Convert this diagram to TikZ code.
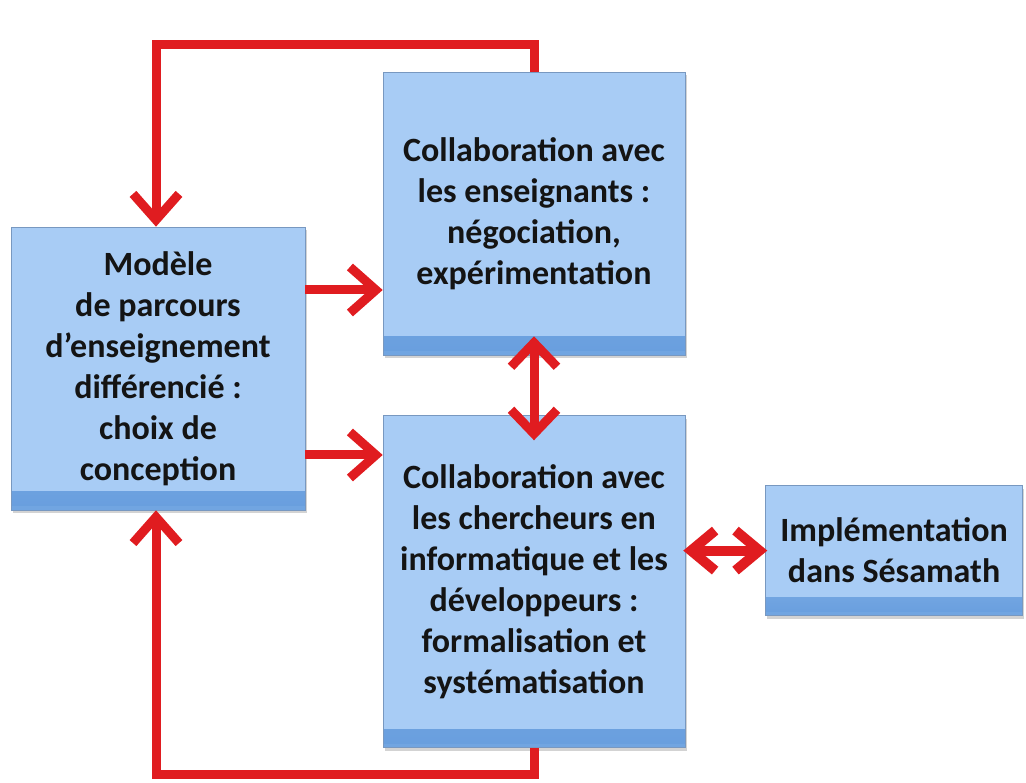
\documentclass[tikz,border=0pt]{standalone}
\usepackage{fontspec}
\setmainfont{Carlito}
\usepackage{tikz}
\usetikzlibrary{arrows.meta, positioning, shadows}
\definecolor{bleuclair}{RGB}{168,204,245}
\definecolor{bleufonce}{RGB}{104,158,222}
\definecolor{bordbleu}{RGB}{120,152,192}
\definecolor{rougefl}{RGB}{224,28,32}
\tikzset{
  bloc/.style={rectangle, draw=bordbleu, line width=0.6pt, fill=bleuclair,
    align=center, font=\fontsize{34}{41}\selectfont\bfseries, text=black!92,
    inner sep=0pt,
    drop shadow={shadow xshift=1.5pt, shadow yshift=-3pt, opacity=0.35},
    path picture={\shade[top color=bleuclair, bottom color=bleufonce]
      ([yshift=18pt]path picture bounding box.south west)
      rectangle ([yshift=4pt]path picture bounding box.south east);
      \fill[bleufonce!85!bleuclair] (path picture bounding box.south west)
      rectangle ([yshift=4pt]path picture bounding box.south east);}},
  fleche/.style={-{Straight Barb[length=26pt, width=46pt]}, line width=9pt,
    color=rougefl},
  fleched/.style={{Straight Barb[length=24pt, width=46pt]}-{Straight Barb[length=24pt, width=46pt]},
    line width=9pt, color=rougefl}
}
\begin{document}
\begin{tikzpicture}[x=1pt, y=1pt]
  \useasboundingbox (0,0) rectangle (1026,783);
  \node[bloc, minimum width=294pt, minimum height=283pt] (modele) at (158,414.5)
    {Modèle\\de parcours\\d’enseignement\\différencié :\\choix de\\conception};
  \node[bloc, minimum width=302pt, minimum height=283pt] (enseignants) at (534,569.5)
    {Collaboration avec\\les enseignants :\\négociation,\\expérimentation};
  \node[bloc, minimum width=302pt, minimum height=332pt, below=60pt of enseignants] (chercheurs)
    {Collaboration avec\\les chercheurs en\\informatique et les\\développeurs :\\formalisation et\\systématisation};
  \node[bloc, minimum width=257pt, minimum height=130pt, right=80pt of chercheurs, yshift=31pt] (sesamath)
    {Implémentation\\dans Sésamath};
  \coordinate (haut) at (156,738);
  \coordinate (bas) at (156,8);
  \draw[fleche] (enseignants.north) |- (haut) -- (modele.north -| haut);
  \draw[fleche] (chercheurs.south) |- (bas) -- (modele.south -| bas);
  \draw[fleche] (modele.east |- 0,493) -- (enseignants.west |- 0,493);
  \draw[fleche] (modele.east |- 0,328) -- (chercheurs.west |- 0,328);
  \draw[fleched, shorten <=-25pt, shorten >=-19pt] (chercheurs.north) -- (enseignants.south);
  \draw[{Straight Barb[length=24pt, width=40pt]}-{Straight Barb[length=24pt, width=40pt]},
    line width=10pt, color=rougefl, shorten <=-2pt, shorten >=-2pt]
    (chercheurs.east |- sesamath) -- (sesamath.west);
\end{tikzpicture}
\end{document}
